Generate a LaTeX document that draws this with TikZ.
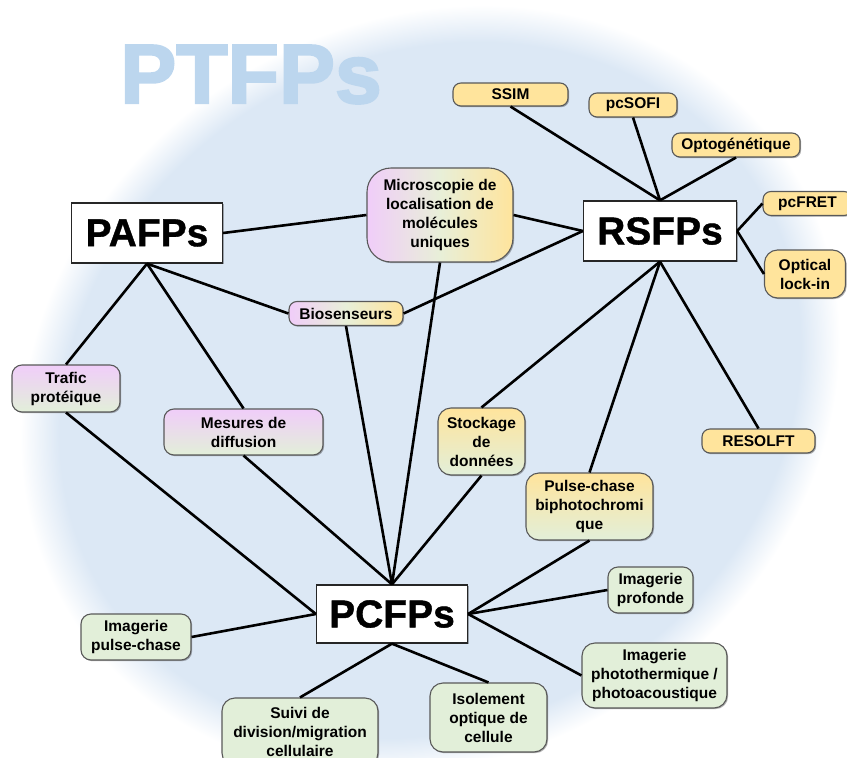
\documentclass[tikz,border=0pt]{standalone}
\usepackage{fontspec}
\setmainfont{Liberation Sans}
\newfontfamily\heavyfont{Liberation Sans}[BoldFeatures={FakeBold=2.5}]
\newfontfamily\bigfnt{Liberation Sans}[BoldFeatures={FakeBold=1}]
\usetikzlibrary{shadows}
\definecolor{bgc}{HTML}{DCE8F5}
\definecolor{ptc}{HTML}{BCD6EE}
\definecolor{pinkc}{HTML}{F0CDF9}
\definecolor{yelc}{HTML}{FFE49C}
\definecolor{grnc}{HTML}{E2EFD9}
\definecolor{midc}{HTML}{E8EFD8}
\pgfdeclareradialshading{bgfade}{\pgfpoint{0bp}{0bp}}{color(0bp)=(bgc); color(22.6bp)=(bgc); color(25bp)=(white); color(50bp)=(white)}
\begin{document}
\begin{tikzpicture}[x=1pt,y=-1pt,
  shad/.style={drop shadow={shadow xshift=1.2pt, shadow yshift=-1.2pt, opacity=0.3, fill=black}},
  lbl/.style={shad, rounded corners=8pt, draw=black!65, line width=1.1pt, align=center, inner sep=0pt,
    font=\bfseries\fontsize{15.5}{19}\selectfont},
  mainbox/.style={shad, draw=black!85, line width=1.3pt, fill=white, inner sep=0pt,
    minimum width=151pt, minimum height=60pt, font=\bigfnt\bfseries\fontsize{39}{39}\selectfont},
  pgy/.style={left color=pinkc, right color=yelc, middle color=midc},
  pg/.style={top color=pinkc, bottom color=grnc},
  yg/.style={top color=yelc, bottom color=grnc},
  yel/.style={fill=yelc},
  grn/.style={fill=grnc},
  conn/.style={line width=2.6pt, black}]
\useasboundingbox (0,0) rectangle (847,758);
\clip (0,0) rectangle (847,758);
\shade[shading=bgfade, transform canvas={shift={(430,390)}, rotate=32}] (0,0) ellipse [x radius=425, y radius=368];
\node[anchor=base, text=ptc, inner sep=0pt, font=\heavyfont\bfseries\fontsize{84}{84}\selectfont] (ptfps) at (251,103) {PTFPs};

% main nodes
\node[mainbox] (pafps) at (147,233) {PAFPs};
\node[mainbox, minimum width=153pt] (rsfps) at (660,231) {RSFPs};
\node[mainbox, minimum height=58pt] (pcfps) at (392,614) {PCFPs};

% mixed nodes
\node[lbl, pgy, rounded corners=24pt, minimum width=146pt, minimum height=94pt] (micro) at (440,215) {Microscopie de\\localisation de\\molécules\\uniques};
\node[lbl, pgy, minimum width=114pt, minimum height=24pt] (bio) at (346,313.5) {Biosenseurs};
\node[lbl, pg, rounded corners=10pt, minimum width=108pt, minimum height=47pt] (trafic) at (66,388.5) {Trafic\\protéique};
\node[lbl, pg, rounded corners=10pt, minimum width=159pt, minimum height=46pt] (mesures) at (243.5,432) {Mesures de\\diffusion};
\node[lbl, yg, rounded corners=13pt, minimum width=87pt, minimum height=67pt] (stock) at (481.5,441.5) {Stockage\\de\\données};
\node[lbl, yg, rounded corners=13pt, minimum width=127pt, minimum height=67pt] (pulse) at (589.5,506.5) {Pulse-chase\\biphotochromi\\que};

% RSFPs nodes
\node[lbl, yel, minimum width=113pt, minimum height=24pt] (resolft) at (758.5,441) {RESOLFT};
\node[lbl, yel, minimum width=115pt, minimum height=23pt] (ssim) at (510.5,94.5) {SSIM};
\node[lbl, yel, minimum width=88pt, minimum height=24pt] (pcsofi) at (633,105) {pcSOFI};
\node[lbl, yel, minimum width=128pt, minimum height=24pt] (opto) at (736,145) {Optogénétique};
\node[lbl, yel, minimum width=89pt, minimum height=24pt] (pcfret) at (807.5,203.5) {pcFRET};
\node[lbl, yel, rounded corners=13pt, minimum width=81pt, minimum height=48pt] (lockin) at (805,274) {Optical\\lock-in};

% PCFPs nodes
\node[lbl, grn, rounded corners=10pt, minimum width=85pt, minimum height=46pt] (profonde) at (650.5,590) {Imagerie\\profonde};
\node[lbl, grn, rounded corners=10pt, minimum width=110pt, minimum height=46pt] (pulsechase) at (136,637) {Imagerie\\pulse-chase};
\node[lbl, grn, rounded corners=13pt, minimum width=145pt, minimum height=65pt] (photo) at (654.5,675.5) {Imagerie\\photothermique /\\photoacoustique};
\node[lbl, grn, rounded corners=13pt, minimum width=156pt, minimum height=68pt] (suivi) at (300,732) {Suivi de\\division/migration\\cellulaire};
\node[lbl, grn, rounded corners=13pt, minimum width=117pt, minimum height=69pt] (isol) at (488.5,717.5) {Isolement\\optique de\\cellule};

% connectors
\draw[conn] (pafps.east) -- (micro.west);
\draw[conn] (pafps.south) -- (trafic.north);
\draw[conn] (pafps.south) -- (mesures.north);
\draw[conn] (pafps.south) -- (bio.west);
\draw[conn] (micro.east) -- (rsfps.west);
\draw[conn] (bio.east) -- (rsfps.west);
\draw[conn] (micro.south) -- (pcfps.north);
\draw[conn] (bio.south) -- (pcfps.north);
\draw[conn] (trafic.south) -- (pcfps.west);
\draw[conn] (mesures.south) -- (pcfps.north);
\draw[conn] (stock.south) -- (pcfps.north);
\draw[conn] (rsfps.south) -- (stock.north);
\draw[conn] (rsfps.south) -- (pulse.north);
\draw[conn] (rsfps.south) -- (resolft.north);
\draw[conn] (pulse.south) -- (pcfps.east);
\draw[conn] (rsfps.north) -- (ssim.south);
\draw[conn] (rsfps.north) -- (pcsofi.south);
\draw[conn] (rsfps.north) -- (opto.south);
\draw[conn] (rsfps.east) -- (pcfret.west);
\draw[conn] (rsfps.east) -- (lockin.west);
\draw[conn] (pcfps.east) -- (profonde.west);
\draw[conn] (pcfps.east) -- (photo.west);
\draw[conn] (pcfps.south) -- (suivi.north);
\draw[conn] (pcfps.south) -- (isol.north);
\draw[conn] (pcfps.west) -- (pulsechase.east);
\end{tikzpicture}
\end{document}
